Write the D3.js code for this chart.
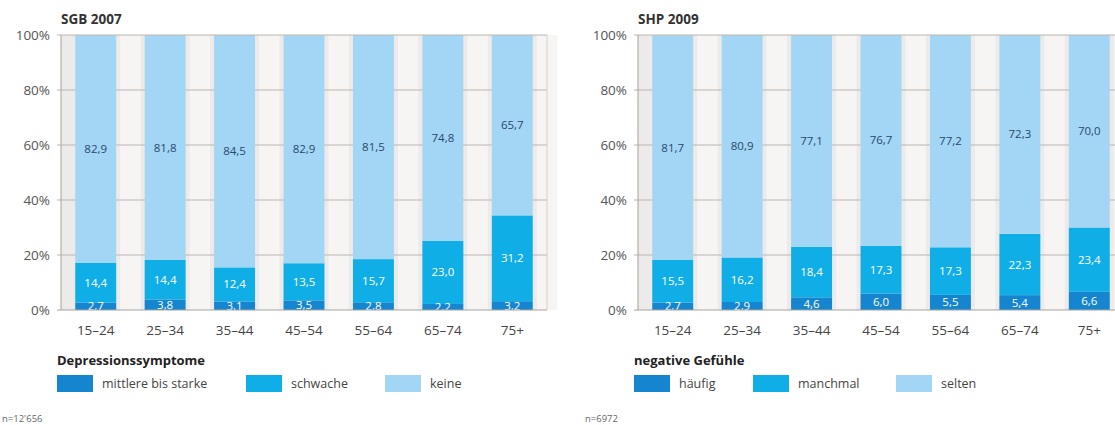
<!DOCTYPE html>
<html>
<head>
<meta charset="utf-8">
<script src="https://cdn.jsdelivr.net/npm/d3@7"></script>
<style>
  body { margin: 0; background: #fff; }
  svg { display: block; font-family: "Open Sans", sans-serif; }
</style>
</head>
<body>
<script>
// age groups on the x axis
var ageGroups = ['15–24', '25–34', '35–44', '45–54', '55–64', '65–74', '75+'];
var yTicks = [0, 20, 40, 60, 80, 100];

// SGB 2007 - Depressionssymptome (%)
var sgbStrong = [2.7, 3.8, 3.1, 3.5, 2.8, 2.2, 3.2];
var sgbWeak   = [14.4, 14.4, 12.4, 13.5, 15.7, 23.0, 31.2];
var sgbNone   = [82.9, 81.8, 84.5, 82.9, 81.5, 74.8, 65.7];

// SHP 2009 - negative Gefühle (%)
var shpOften     = [2.7, 2.9, 4.6, 6.0, 5.5, 5.4, 6.6];
var shpSometimes = [15.5, 16.2, 18.4, 17.3, 17.3, 22.3, 23.4];
var shpRarely    = [81.7, 80.9, 77.1, 76.7, 77.2, 72.3, 70.0];

var colors = ['#1585d0', '#10aee6', '#a3d6f5'];
var labelColors = ['#fff', '#fff', '#29486b'];

var svg = d3.select("body").append("svg")
      .attr("width", 1115)
      .attr("height", 425);

var plotTop = 35, plotBottom = 310;
var y = d3.scaleLinear().domain([0, 100]).range([plotBottom, plotTop]);
var fmt = function(v){ return d3.format(".1f")(v).replace(".", ","); };

function panel(left, title, legendTitle, keys, series, nText, legendX, nX) {
  var right = left + 486;
  var x = d3.scaleBand().domain(ageGroups).range([left, right]).paddingInner(0.41).paddingOuter(0.205);
  var g = svg.append("g");

  var rows = ageGroups.map(function(a, i){
    var r = { age: a };
    keys.forEach(function(k, j){ r[k] = series[j][i]; });
    return r;
  });
  var stacked = d3.stack().keys(keys)(rows);

  // background + stripes
  g.append("rect").attr("x", left).attr("y", plotTop).attr("width", right - left).attr("height", plotBottom - plotTop)
    .attr("fill", "#ecebea");
  var step = x.step();
  g.selectAll("rect.stripe").data(ageGroups).enter().append("rect")
    .attr("class", "stripe")
    .attr("x", function(d){ return x(d) + x.bandwidth() + 4; })
    .attr("y", plotTop)
    .attr("width", step - x.bandwidth() - 8)
    .attr("height", plotBottom - plotTop)
    .attr("fill", "#f7f5f3");

  // gridlines
  g.selectAll("line.grid").data(yTicks.slice(1, -1)).enter().append("line")
    .attr("x1", left - 4).attr("x2", right)
    .attr("y1", function(d){ return y(d); }).attr("y2", function(d){ return y(d); })
    .attr("stroke", "#bdb5ad").attr("stroke-width", 1);

  // bars
  var layer = g.selectAll("g.layer").data(stacked).enter().append("g")
    .attr("class", "layer")
    .attr("fill", function(d, i){ return colors[i]; });
  layer.selectAll("rect").data(function(d){ return d; }).enter().append("rect")
    .attr("x", function(d){ return x(d.data.age); })
    .attr("y", function(d){ return y(Math.min(d[1], 100)); })
    .attr("width", x.bandwidth())
    .attr("height", function(d){ return y(d[0]) - y(Math.min(d[1], 100)); });

  // value labels
  stacked.forEach(function(s, i){
    g.selectAll(null).data(s).enter().append("text")
      .attr("x", function(d){ return x(d.data.age) + x.bandwidth() / 2; })
      .attr("y", function(d){ return y((d[0] + Math.min(d[1], 100)) / 2); })
      .attr("dy", "0.35em")
      .attr("text-anchor", "middle")
      .attr("font-size", 11.5)
      .attr("fill", labelColors[i])
      .text(function(d){ return fmt(d[1] - d[0]); });
  });

  // frame
  g.append("line").attr("x1", left - 4).attr("x2", right).attr("y1", plotTop).attr("y2", plotTop)
    .attr("stroke", "#bdb5ad");
  g.append("line").attr("x1", right).attr("x2", right).attr("y1", plotTop).attr("y2", plotBottom)
    .attr("stroke", "#d8cfc6");
  g.append("line").attr("x1", left).attr("x2", left).attr("y1", plotTop).attr("y2", plotBottom)
    .attr("stroke", "#a9a29b");
  g.append("line").attr("x1", left - 4).attr("x2", right).attr("y1", plotBottom).attr("y2", plotBottom)
    .attr("stroke", "#a9a29b");

  // y axis labels
  g.selectAll("text.ytick").data(yTicks).enter().append("text")
    .attr("class", "ytick")
    .attr("x", left - 11).attr("y", function(d){ return y(d); })
    .attr("dy", "0.35em").attr("text-anchor", "end")
    .attr("font-size", 13.5).attr("fill", "#555")
    .text(function(d){ return d + "%"; });

  // x axis labels
  g.selectAll("text.xtick").data(ageGroups).enter().append("text")
    .attr("class", "xtick")
    .attr("x", function(d){ return x(d) + x.bandwidth() / 2; })
    .attr("y", 335).attr("text-anchor", "middle")
    .attr("font-size", 13.5).attr("fill", "#444")
    .text(function(d){ return d; });

  // title
  g.append("text").attr("x", left).attr("y", 24)
    .attr("font-size", 13.5).attr("font-weight", "bold").attr("fill", "#333")
    .text(title);

  // legend
  g.append("text").attr("x", legendX[0]).attr("y", 365)
    .attr("font-size", 13).attr("font-weight", "bold").attr("fill", "#222")
    .text(legendTitle);
  keys.forEach(function(k, i){
    g.append("rect").attr("x", legendX[i]).attr("y", 375).attr("width", 36).attr("height", 17)
      .attr("fill", colors[i]);
    g.append("text").attr("x", legendX[i] + 45).attr("y", 383.5).attr("dy", "0.35em")
      .attr("font-size", 12.5).attr("fill", "#444")
      .text(k);
  });

  g.append("text").attr("x", nX).attr("y", 422)
    .attr("font-size", 9.5).attr("fill", "#666")
    .text(nText);
}

panel(61, "SGB 2007", "Depressionssymptome", ["mittlere bis starke", "schwache", "keine"],
      [sgbStrong, sgbWeak, sgbNone], "n=12'656", [57, 246, 385], 2);
panel(638, "SHP 2009", "negative Gefühle", ["häufig", "manchmal", "selten"],
      [shpOften, shpSometimes, shpRarely], "n=6972", [634, 753, 896], 585);
</script>
</body>
</html>
